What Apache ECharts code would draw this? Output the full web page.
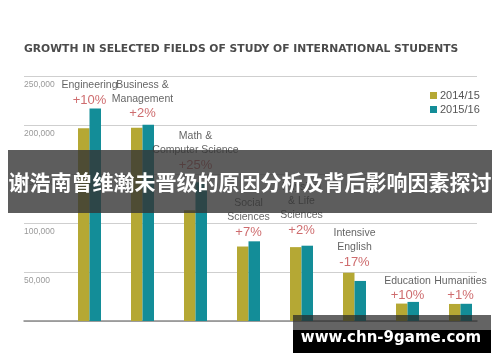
<!DOCTYPE html>
<html><head><meta charset="utf-8">
<script src="https://cdn.jsdelivr.net/npm/echarts@6/dist/echarts.min.js"></script>
<style>html,body{margin:0;padding:0;background:#fff}#c{width:500px;height:362px}</style>
</head><body><div id="c"></div>
<script>
const categories = ['Engineering', 'Business &\nManagement', 'Math &\nComputer Science', 'Social\nSciences', 'Physical\n& Life\nSciences', 'Intensive\nEnglish', 'Education', 'Humanities'];
const growth = ['+10%', '+2%', '+25%', '+7%', '+2%', '-17%', '+10%', '+1%'];
const y2014 = [196750, 197258, 112950, 76002, 75385, 49233, 17772, 17395];
const y2015 = [216932, 200312, 141651, 81304, 76838, 40877, 19483, 17561];
const yTicks = [0, 50000, 100000, 150000, 200000, 250000];
const seriesNames = ['2014/15', '2015/16'];

// styling
const OLIVE = '#b5a834', TEAL = '#138d98';
const narrow = '"Liberation Sans",Arial,sans-serif';
const labelDist = [0, 3, 9, 1.3, 7.3, 2.6, -2, 0];

const chart = echarts.init(document.getElementById('c'), null, {renderer: 'canvas'});
const yMax = yTicks[yTicks.length - 1];
const labelData = categories.map((c, i) => ({
  value: Math.max(y2014[i], y2015[i]),
  label: {distance: labelDist[i]}
}));
chart.setOption({
  animation: false,
  title: {
    text: 'GROWTH IN SELECTED FIELDS OF STUDY OF INTERNATIONAL STUDENTS',
    left: 24, top: 44, padding: 0,
    textStyle: {fontSize: 10.75, fontWeight: 'bold', color: '#4b4b4b', fontFamily: '"DejaVu Sans",sans-serif'}
  },
  legend: {
    orient: 'vertical', left: 425, top: 85, itemWidth: 7, itemHeight: 7, itemGap: 3,
    icon: 'rect', data: seriesNames,
    textStyle: {fontSize: 11, color: '#555', fontFamily: narrow, padding: [0, 0, 0, -2]}
  },
  grid: [
    {left: 24, right: 23, top: 76, bottom: 41},
    {left: 63, right: 13, top: 76, bottom: 41}
  ],
  xAxis: [
    {gridIndex: 0, type: 'category', data: [''], axisTick: {show: false}, axisLabel: {show: false},
     axisLine: {lineStyle: {color: '#8a8a8a', width: 1.5}}},
    {gridIndex: 1, type: 'category', data: categories, show: false}
  ],
  yAxis: [
    {gridIndex: 0, type: 'value', min: yTicks[0], max: yMax, interval: yTicks[1] - yTicks[0],
     axisLine: {show: false}, axisTick: {show: false},
     splitLine: {lineStyle: {color: '#cfcfcf', width: 1}},
     axisLabel: {inside: true, verticalAlign: 'top', align: 'left', margin: 0, padding: [4, 0, 0, 0],
       fontSize: 8.5, color: '#9a9a9a', fontFamily: narrow,
       formatter: v => v === 0 ? '' : v.toLocaleString('en-US')}},
    {gridIndex: 1, type: 'value', min: yTicks[0], max: yMax, show: false}
  ],
  series: [
    {name: seriesNames[0], type: 'bar', xAxisIndex: 1, yAxisIndex: 1, data: y2014,
     barWidth: 11.5, barGap: '0%', itemStyle: {color: OLIVE}},
    {name: seriesNames[1], type: 'bar', xAxisIndex: 1, yAxisIndex: 1, data: y2015,
     barWidth: 11.5, barGap: '0%', itemStyle: {color: TEAL}},
    {type: 'scatter', xAxisIndex: 1, yAxisIndex: 1, symbolSize: 0, silent: true, data: labelData,
     label: {show: true, position: 'top',
       formatter: p => p.name.split('\n').map(l => '{n|' + l + '}').join('\n') + '\n{p|' + growth[p.dataIndex] + '}',
       rich: {
         n: {fontSize: 10.5, lineHeight: 14, color: '#3c3c3c', fontFamily: narrow, align: 'center'},
         p: {fontSize: 13, lineHeight: 16, color: '#c2474a', fontFamily: narrow, align: 'center'}
       }}}
  ],
  graphic: [
    {type: 'rect', shape: {x: 8, y: 150, width: 484, height: 63}, style: {fill: 'rgba(52,52,52,0.8)'}, z: 100},
    {type: 'text', x: 250, y: 182, z: 101,
     style: {text: '谢浩南曾维瀚未晋级的原因分析及背后影响因素探讨', fill: '#fff', fontSize: 21, fontWeight: 'bold',
       fontFamily: '"Noto Sans CJK SC",sans-serif', align: 'center', verticalAlign: 'middle'}},
    {type: 'rect', shape: {x: 293, y: 315, width: 198, height: 15}, style: {fill: 'rgba(40,40,40,0.72)'}, z: 100},
    {type: 'rect', shape: {x: 293, y: 330, width: 198, height: 23}, style: {fill: '#000'}, z: 100},
    {type: 'text', x: 391, y: 338.5, z: 101,
     style: {text: 'www.chn-9game.com', fill: '#fff', fontSize: 15, fontWeight: 'bold',
       fontFamily: '"DejaVu Sans",sans-serif', align: 'center', verticalAlign: 'middle'}}
  ]
});
</script></body></html>
